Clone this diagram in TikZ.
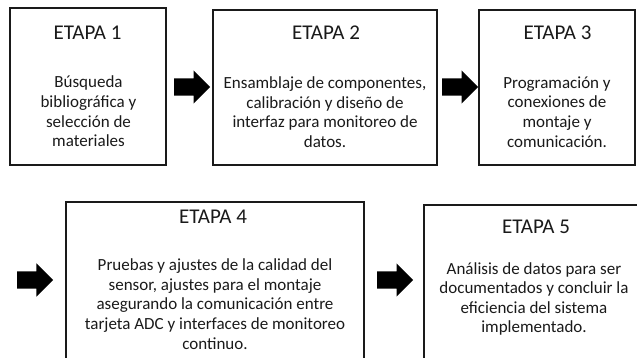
\documentclass[tikz,border=0pt]{standalone}
\usepackage{fontspec}
\setmainfont{Carlito}
\usetikzlibrary{shapes.arrows}
\definecolor{ink}{HTML}{1A1A1A}
\begin{document}
\begin{tikzpicture}[x=1pt,y=-1pt,
  stagebox/.style={draw=ink, line width=1.3pt, inner sep=0pt},
  stagetitle/.style={font=\fontsize{21}{25}\selectfont, text=ink, anchor=base, inner sep=0pt},
  stagebody/.style={font=\fontsize{17}{19.6}\selectfont, text=ink, align=center, inner sep=0pt},
  blockarrow/.style={single arrow, fill=black, draw=none, inner sep=0pt,
    text height=8.5pt, text depth=8.5pt, single arrow head extend=8pt,
    minimum height=36pt, anchor=tail}]
\clip (0,0) rectangle (637,357);
\fill[white] (0,0) rectangle (637,357);
% boxes
\node[stagebox, minimum width=156pt, minimum height=157pt] (b1) at (88,86.5) {};
\node[stagebox, minimum width=224pt, minimum height=155pt] (b2) at (325,87.5) {};
\node[stagebox, minimum width=156pt, minimum height=155pt] (b3) at (557,87.5) {};
\node[stagebox, minimum width=298pt, minimum height=178pt] (b4) at (215,291) {};
\node[stagebox, minimum width=222pt, minimum height=175pt] (b5) at (535,292.5) {};
% titles
\node[stagetitle] (t1) at (87.5,39) {ETAPA 1};
\node[stagetitle] (t2) at (326,39) {ETAPA 2};
\node[stagetitle] (t3) at (557.5,39) {ETAPA 3};
\node[stagetitle] (t4) at (213,223) {ETAPA 4};
\node[stagetitle] (t5) at (536,233) {ETAPA 5};
% bodies
\node[stagebody] (d1) at (88.5,111.5) {Búsqueda\\bibliográfica y\\selección de\\materiales};
\node[stagebody] (d2) at (325,112) {Ensamblaje de componentes,\\calibración y diseño de\\interfaz para monitoreo de\\datos.};
\node[stagebody] (d3) at (557,112) {Programación y\\conexiones de\\montaje y\\comunicación.};
\node[stagebody] (d4) at (215,304) {Pruebas y ajustes de la calidad del\\sensor, ajustes para el montaje\\asegurando la comunicación entre\\tarjeta ADC y interfaces de monitoreo\\continuo.};
\node[stagebody] (d5) at (534,299) {Análisis de datos para ser\\documentados y concluir la\\eficiencia del sistema\\implementado.};
% block arrows
\node[blockarrow] (a1) at (174,87) {};
\node[blockarrow] (a2) at (442,87) {};
\node[blockarrow] (a3) at (17,280) {};
\node[blockarrow] (a4) at (377,280) {};
\end{tikzpicture}
\end{document}
